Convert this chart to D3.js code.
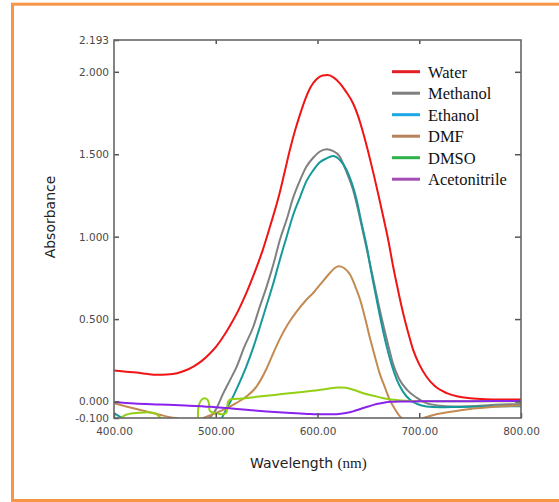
<!DOCTYPE html>
<html>
<head>
<meta charset="utf-8">
<script src="https://cdn.jsdelivr.net/npm/d3@7"></script>
<style>
  html, body { margin: 0; padding: 0; background: #fff; }
  svg { display: block; }
</style>
</head>
<body>
<svg id="chart" width="559" height="502"></svg>
<script>
// Absorption spectra in different solvents: [wavelength (nm), absorbance].
// null marks a stretch where the trace runs below the plotted range.
const water = [[400,0.188],[410,0.182],[422,0.176],[432,0.168],[442,0.162],[452,0.164],[462,0.172],[470,0.188],[478,0.212],[486,0.245],[494,0.29],[500,0.33],[507,0.39],[514,0.46],[522,0.55],[530,0.657],[538,0.78],[546,0.915],[554,1.075],[563,1.27],[568,1.4],[573,1.53],[578,1.645],[583,1.745],[588,1.835],[593,1.905],[599,1.955],[605,1.978],[610,1.98],[616,1.965],[622,1.93],[628,1.88],[635,1.808],[640,1.73],[645,1.627],[650,1.51],[655,1.384],[660,1.25],[665,1.11],[670,0.965],[674,0.83],[679,0.68],[684,0.54],[689,0.42],[694,0.313],[700,0.225],[707,0.152],[715,0.095],[727,0.051],[738,0.03],[750,0.02],[765,0.014],[780,0.012],[800,0.012]];

const methanol = [[494,-0.1],[500,-0.05],[507,0.045],[514,0.13],[520.6,0.212],[528,0.33],[537,0.455],[543,0.57],[550,0.697],[557,0.84],[563,0.98],[570,1.11],[576,1.235],[583,1.345],[589,1.424],[596,1.48],[602,1.515],[609,1.53],[615,1.52],[622,1.485],[628,1.4],[635,1.283],[640,1.16],[645,1.02],[650,0.88],[655,0.737],[660,0.59],[665,0.455],[670,0.33],[674,0.233],[680,0.14],[688,0.071],[697,0.025],[707,-0.01],[720,-0.025],[733,-0.03],[750,-0.028],[775,-0.02],[800,-0.015]];

const ethanol = [[400,-0.07],[404,-0.085],[408,-0.1],null,[506,-0.1],[511,-0.04],[517,0.03],[523,0.11],[530,0.212],[537,0.33],[543.5,0.455],[550,0.585],[556.6,0.717],[563,0.86],[569.7,1.0],[576,1.13],[583,1.242],[589,1.335],[596,1.404],[602,1.45],[609,1.475],[615,1.489],[622,1.465],[628.7,1.404],[634,1.32],[638.5,1.222],[643,1.09],[648.4,0.94],[653,0.78],[658.2,0.616],[663,0.47],[668,0.333],[673,0.22],[678,0.131],[684,0.06],[691,0.01],[698,-0.015],[707,-0.03],[720,-0.035],[740,-0.033],[770,-0.03],[800,-0.028]];

const dmf = [[400,-0.01],[412,-0.03],[428,-0.055],[445,-0.08],[455,-0.095],[462,-0.1],null,[488,-0.1],[494,-0.085],[502,-0.065],[511,-0.04],[520,-0.01],[530,0.03],[540,0.09],[550,0.2],[557,0.3],[563,0.38],[571,0.47],[580,0.55],[588,0.61],[596,0.66],[604,0.72],[612,0.778],[617,0.81],[621,0.82],[626,0.81],[632,0.77],[637,0.7],[642,0.616],[647,0.5],[652,0.374],[657,0.26],[661,0.172],[666,0.09],[671,0.01],[676,-0.045],[681,-0.09],[683,-0.1],null,[704,-0.1],[715,-0.08],[733,-0.06],[750,-0.045],[766,-0.036],[783,-0.029],[800,-0.024]];

// the DMSO trace folds back on itself near 485-512 nm, so its points are kept in drawing order
const dmso = [[407,-0.1],[410,-0.085],[415,-0.075],[425,-0.068],[435,-0.066],[441,-0.072],[444,-0.09],[446,-0.1],null,[482.6,-0.1],[482.6,-0.06],[483.5,-0.02],[486,0.01],[489,0.02],[492,0.01],[493.5,-0.02],[494,-0.055],[497,-0.068],[503,-0.074],[508,-0.076],[510.5,-0.066],[511.3,-0.03],[512.2,0.0],[514,0.012],[518,0.015],[525,0.018],[535,0.025],[550,0.035],[565,0.045],[580,0.055],[595,0.065],[610,0.078],[620,0.085],[628,0.083],[636,0.07],[645,0.05],[655,0.035],[665,0.02],[675,0.01],[690,0.003],[710,0.002],[750,0.002],[800,0.002]];

const acetonitrile = [[400,-0.003],[420,-0.012],[445,-0.018],[470,-0.024],[495,-0.032],[511,-0.04],[530,-0.05],[550,-0.06],[570,-0.068],[590,-0.075],[605,-0.078],[619,-0.077],[628,-0.07],[635,-0.06],[642,-0.045],[650,-0.03],[658,-0.015],[665,-0.007],[672,-0.002],[681,0.0],[700,0.001],[750,0.002],[800,0.003]];

const seriesNames = ["Water", "Methanol", "Ethanol", "DMF", "DMSO", "Acetonitrile"];
const seriesData = [water, methanol, ethanol, dmf, dmso, acetonitrile];
const lineColors = ["#f01414", "#808080", "#17999b", "#c38a52", "#93cf14", "#8a22ee"];
const legendColors = ["#e41e26", "#7f7f7f", "#1ba6e6", "#b8825a", "#2db24a", "#a44db2"];

const xTicks = [400, 500, 600, 700, 800];
const yTicks = [-0.1, 0, 0.5, 1.0, 1.5, 2.0, 2.193];
const xDomain = [400, 800];
const yDomain = [-0.1, 2.193];

const svg = d3.select("#chart");

// page border
svg.append("rect")
  .attr("x", 12.5).attr("y", 4.2)
  .attr("width", 600).attr("height", 496.3)
  .attr("fill", "none")
  .attr("stroke", "#f79646")
  .attr("stroke-width", 3);

const plot = { left: 114, right: 521, top: 40, bottom: 418 };

const x = d3.scaleLinear().domain(xDomain).range([plot.left, plot.right]);
const y = d3.scaleLinear().domain(yDomain).range([plot.bottom, plot.top]);

svg.append("clipPath").attr("id", "plot-clip")
  .append("rect")
  .attr("x", plot.left).attr("y", plot.top)
  .attr("width", plot.right - plot.left)
  .attr("height", plot.bottom - plot.top);

// spectra
const makeLine = curve => d3.line()
  .defined(d => d !== null)
  .x(d => x(d[0]))
  .y(d => y(d[1]))
  .curve(curve);
const smoothLine = makeLine(d3.curveMonotoneX);
const foldLine = makeLine(d3.curveCatmullRom.alpha(0.5));

const traces = svg.append("g").attr("clip-path", "url(#plot-clip)");
seriesData.forEach((data, i) => {
  traces.append("path")
    .datum(data)
    .attr("d", data === dmso ? foldLine : smoothLine)
    .attr("fill", "none")
    .attr("stroke", lineColors[i])
    .attr("stroke-width", 2)
    .attr("stroke-linejoin", "round")
    .attr("stroke-linecap", "round");
});

// axes (ticks point into the plot)
const tickFont = g => g.selectAll("text")
  .attr("font-family", "DejaVu Sans, Verdana, sans-serif")
  .attr("font-size", 10.5)
  .attr("fill", "#4a4a4a");
const tickLines = g => g.selectAll("line").attr("stroke", "#555").attr("stroke-width", 1.5);
const fixed = digits => d => d.toFixed(digits);

svg.append("g")
  .attr("transform", `translate(0,${plot.bottom})`)
  .call(d3.axisBottom(x).tickValues(xTicks).tickFormat(fixed(2)).tickSize(-5).tickPadding(10))
  .call(g => g.select(".domain").remove())
  .call(tickFont).call(tickLines);

svg.append("g")
  .attr("transform", `translate(0,${plot.top})`)
  .call(d3.axisTop(x).tickValues(xTicks.slice(1, -1)).tickFormat("").tickSize(-4))
  .call(g => g.select(".domain").remove())
  .call(tickLines);

svg.append("g")
  .attr("transform", `translate(${plot.left},0)`)
  .call(d3.axisLeft(y).tickValues(yTicks).tickFormat(fixed(3)).tickSize(-5).tickPadding(5))
  .call(g => g.select(".domain").remove())
  .call(tickFont).call(tickLines);

svg.append("g")
  .attr("transform", `translate(${plot.right},0)`)
  .call(d3.axisRight(y).tickValues(yTicks.slice(1, -1)).tickFormat("").tickSize(-6))
  .call(g => g.select(".domain").remove())
  .call(tickLines);

// plot frame
svg.append("rect")
  .attr("x", plot.left).attr("y", plot.top)
  .attr("width", plot.right - plot.left)
  .attr("height", plot.bottom - plot.top)
  .attr("fill", "none")
  .attr("stroke", "#666")
  .attr("stroke-width", 1.6);

// axis titles
svg.append("text")
  .attr("transform", "translate(55,217) rotate(-90)")
  .attr("text-anchor", "middle")
  .attr("font-family", "DejaVu Sans, Verdana, sans-serif")
  .attr("font-size", 14)
  .attr("fill", "#222")
  .text("Absorbance");

const xTitle = svg.append("text")
  .attr("x", 250).attr("y", 468)
  .attr("fill", "#222");
xTitle.append("tspan")
  .attr("font-family", "DejaVu Sans, Verdana, sans-serif")
  .attr("font-size", 14)
  .text("Wavelength ");
xTitle.append("tspan")
  .attr("font-family", "Liberation Serif, Times New Roman, serif")
  .attr("font-size", 15)
  .text("(nm)");

// legend
const legend = svg.append("g");
seriesNames.forEach((name, i) => {
  const ly = 71.7 + i * 21.5;
  legend.append("line")
    .attr("x1", 392).attr("x2", 420)
    .attr("y1", ly).attr("y2", ly)
    .attr("stroke", legendColors[i])
    .attr("stroke-width", 3);
  legend.append("text")
    .attr("x", 428).attr("y", ly + 6)
    .attr("font-family", "Liberation Serif, Times New Roman, serif")
    .attr("font-size", 16.5)
    .attr("fill", "#111")
    .text(name);
});
</script>
</body>
</html>
